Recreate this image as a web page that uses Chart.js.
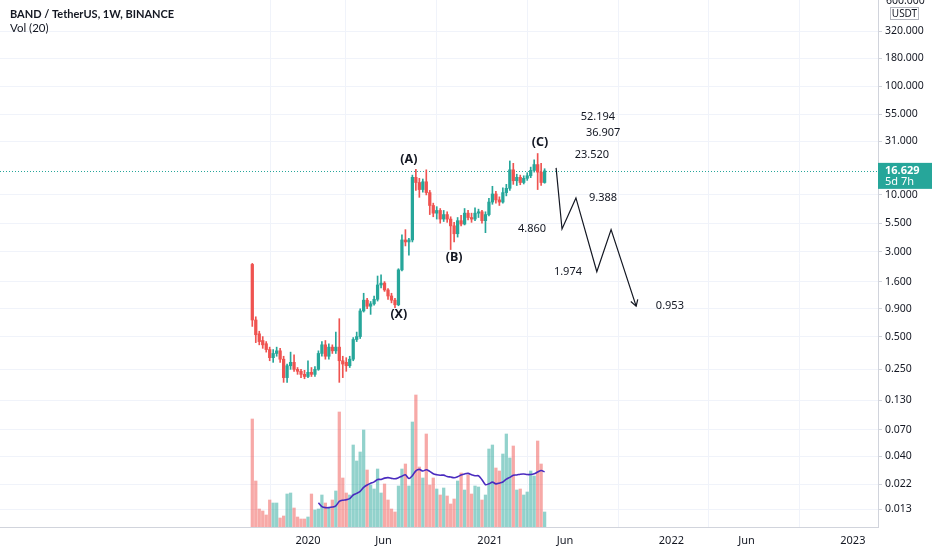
<!DOCTYPE html>
<html>
<head>
<meta charset="utf-8">
<script src="https://cdn.jsdelivr.net/npm/chart.js@4.4.1/dist/chart.umd.min.js"></script>
<style>
  html, body { margin: 0; padding: 0; background: #fff; }
  #wrap { width: 932px; height: 550px; position: relative; }
</style>
</head>
<body>
<div id="wrap"><canvas id="chart"></canvas></div>
<script>
// weekly candles, BAND/USDT
const opens  = [2.30,0.71,0.53,0.46,0.43,0.38,0.32,0.35,0.37,0.31,0.21,0.27,0.29,0.25,0.24,0.225,0.215,0.235,0.225,0.25,
                0.35,0.42,0.33,0.40,0.37,0.40,0.30,0.29,0.27,0.31,0.47,0.50,0.86,1.08,0.95,1.00,1.10,1.49,1.55,1.34,
                1.18,1.08,0.98,2.05,3.86,3.70,3.86,14.5,13.0,11.2,13.2,10.5,8.0,6.8,7.2,6.0,6.6,6.0,5.2,4.4,
                5.8,5.4,6.8,6.2,6.0,6.8,7.0,5.8,6.6,8.6,10.2,9.0,8.6,10.5,11.5,17.0,13.5,14.5,13.0,14.2,
                15.0,16.8,19.0,16.2,13.0];
const highs  = [2.35,0.76,0.56,0.50,0.45,0.40,0.38,0.40,0.39,0.33,0.28,0.36,0.34,0.26,0.25,0.245,0.30,0.26,0.265,0.37,
                0.45,0.46,0.43,0.42,0.55,0.73,0.33,0.32,0.33,0.49,0.55,0.90,1.25,1.12,1.05,1.18,1.80,1.85,1.60,1.38,
                1.25,1.12,2.10,4.30,4.80,4.00,15.2,17.2,14.2,14.0,17.0,11.0,8.4,7.8,7.5,7.2,7.0,6.3,5.6,6.2,
                6.5,7.5,7.2,6.8,7.6,7.4,7.2,7.0,9.3,12.0,10.8,9.6,11.6,12.5,20.5,19.5,15.5,15.2,15.0,16.0,
                18.0,21.0,24.0,19.5,17.4];
const lows   = [0.62,0.44,0.42,0.39,0.36,0.30,0.29,0.33,0.29,0.19,0.19,0.25,0.24,0.225,0.21,0.205,0.21,0.215,0.215,0.245,
                0.33,0.31,0.31,0.35,0.35,0.19,0.21,0.24,0.26,0.30,0.45,0.48,0.84,0.90,0.80,0.97,1.06,1.40,1.30,1.10,
                1.02,0.92,0.96,2.00,3.40,2.80,3.70,11.0,9.5,10.6,10.0,6.6,6.3,6.0,5.5,5.7,5.6,3.15,3.7,4.1,
                5.2,5.3,5.9,5.6,5.8,6.2,5.5,4.5,6.4,8.2,8.4,8.0,8.4,9.8,11.0,12.5,12.2,12.4,12.6,13.6,
                14.4,16.2,11.2,12.2,12.8];
const closes = [0.71,0.52,0.45,0.42,0.38,0.32,0.35,0.37,0.31,0.21,0.27,0.29,0.25,0.24,0.225,0.215,0.235,0.225,0.25,0.35,
                0.42,0.33,0.40,0.37,0.40,0.30,0.28,0.27,0.31,0.47,0.50,0.86,1.08,0.95,1.00,1.10,1.49,1.55,1.34,1.18,
                1.08,0.98,2.05,3.86,3.70,3.86,14.5,13.0,11.2,13.2,10.5,8.0,6.8,7.2,6.0,6.6,6.0,5.2,4.4,5.8,
                5.4,6.8,6.2,6.0,6.8,7.0,5.8,6.6,8.6,10.2,9.0,8.6,10.5,11.5,17.0,13.5,14.5,13.0,14.2,15.0,
                16.8,19.0,16.2,13.0,16.629];
const volumes = [108,46,18,16,12,27,24,24,9,11,33,34,19,10,8,8,10,33,17,18,
                 32,24,19,27,36,115,49,34,32,82,66,75,97,57,42,38,58,34,43,27,
                 18,15,41,58,63,41,105,132,60,49,93,42,49,38,32,39,31,23,28,46,
                 54,37,52,33,41,40,27,32,78,82,59,56,73,93,69,81,37,38,32,35,
                 56,51,86,63,15];
const firstWeek = -16;   // first candle, in weeks from 1 Jan 2020

const priceTicks = [0.013,0.022,0.04,0.07,0.13,0.25,0.5,0.9,1.6,3,5.5,10,31,55,100,180,320];
const topTick = 600;     // half hidden under the top edge
const timeTicks  = [0, 21.71, 52.29, 73.86, 104.43, 126, 156.57];
const timeLabels = ['2020','Jun','2021','Jun','2022','Jun','2023'];

// drawn projection
const projWeeks  = [71.3, 73.0, 77.0, 83.0, 87.1, 94.3];
const projPrices = [17.7, 4.86, 9.388, 1.974, 4.8, 0.953];
const levelLabels = ['52.194','36.907','23.520','9.388','4.860','1.974','0.953'];
const levelWeeks  = [83.3, 84.8, 81.6, 84.8, 64.4, 74.7, 104];
const waveLabels = ['(A)','(B)','(C)','(X)'];
const waveWeeks  = [29.0, 42.0, 66.7, 26.1];
const wavePrices = [21.4, 2.64, 30.6, 0.805];

const GREEN = '#26a69a', RED = '#ef5350';
const FONT = 'Noto Sans';
const up = closes.map((c, i) => c >= opens[i]);
const xs = opens.map((_, i) => firstWeek + i);
const candleColors = up.map(u => u ? GREEN : RED);
const volColors = up.map(u => u ? 'rgba(38,166,154,0.5)' : 'rgba(239,83,80,0.5)');
const volMA = volumes.map((v, i) => i < 19 ? null : volumes.slice(i - 19, i + 1).reduce((a, b) => a + b, 0) / 20);
const lastPrice = closes[closes.length - 1];

const noPad = s => { s.paddingTop = 0; s.paddingBottom = 0; s.paddingLeft = 0; s.paddingRight = 0; };

const overlay = {
  id: 'overlay',
  beforeDraw(chart) {
    const ctx = chart.ctx;
    ctx.save();
    ctx.fillStyle = '#fff';
    ctx.fillRect(0, 0, chart.width, chart.height);
    ctx.restore();
  },
  beforeDatasetsDraw(chart) {
    const { ctx, chartArea, scales } = chart;
    const y = Math.round(scales.y.getPixelForValue(lastPrice)) + 0.5;
    ctx.save();
    ctx.strokeStyle = GREEN;
    ctx.lineWidth = 1;
    ctx.setLineDash([1, 2]);
    ctx.beginPath();
    ctx.moveTo(chartArea.left, y);
    ctx.lineTo(chartArea.right, y);
    ctx.stroke();
    ctx.restore();
  },
  afterDatasetsDraw(chart) {
    const { ctx, scales } = chart;
    const sx = scales.x, sy = scales.y;
    ctx.save();
    // arrow head on the projection
    const n = projWeeks.length;
    const x1 = sx.getPixelForValue(projWeeks[n - 2]), y1 = sy.getPixelForValue(projPrices[n - 2]);
    const x2 = sx.getPixelForValue(projWeeks[n - 1]), y2 = sy.getPixelForValue(projPrices[n - 1]);
    const a = Math.atan2(y2 - y1, x2 - x1);
    ctx.strokeStyle = '#131722';
    ctx.lineWidth = 1.2;
    ctx.beginPath();
    ctx.moveTo(x2 - 7 * Math.cos(a - 0.55), y2 - 7 * Math.sin(a - 0.55));
    ctx.lineTo(x2, y2);
    ctx.lineTo(x2 - 7 * Math.cos(a + 0.55), y2 - 7 * Math.sin(a + 0.55));
    ctx.stroke();

    ctx.textAlign = 'center';
    ctx.textBaseline = 'middle';
    ctx.fillStyle = '#131722';
    ctx.font = '11px "' + FONT + '"';
    levelLabels.forEach((t, i) => {
      ctx.fillText(t, sx.getPixelForValue(levelWeeks[i]), sy.getPixelForValue(parseFloat(t)));
    });
    ctx.font = 'bold 12.5px "' + FONT + '"';
    waveLabels.forEach((t, i) => {
      ctx.fillText(t, sx.getPixelForValue(waveWeeks[i]), sy.getPixelForValue(wavePrices[i]));
    });
    ctx.restore();
  },
  afterDraw(chart) {
    const { ctx, chartArea, scales } = chart;
    ctx.save();
    // cut-off top label
    ctx.fillStyle = '#131722';
    ctx.textAlign = 'left';
    ctx.textBaseline = 'middle';
    ctx.font = '10.5px "' + FONT + '"';
    ctx.fillText(topTick.toFixed(3), chartArea.right + 8, scales.y.getPixelForValue(topTick));
    // last price tag
    const y = scales.y.getPixelForValue(lastPrice);
    ctx.fillStyle = GREEN;
    ctx.fillRect(chartArea.right, y - 8, chart.width - chartArea.right, 26);
    ctx.fillStyle = '#fff';
    ctx.font = 'bold 11px "' + FONT + '"';
    ctx.fillText(lastPrice.toFixed(3), chartArea.right + 7, y);
    ctx.font = '11px "' + FONT + '"';
    ctx.fillText('5d 7h', chartArea.right + 7, y + 11);
    // currency box
    ctx.fillStyle = '#fff';
    ctx.strokeStyle = '#b2b5be';
    ctx.lineWidth = 1;
    ctx.fillRect(chartArea.right + 12.5, 7.5, 28, 12);
    ctx.strokeRect(chartArea.right + 12.5, 7.5, 28, 12);
    ctx.fillStyle = '#131722';
    ctx.font = '10px "' + FONT + '"';
    ctx.textAlign = 'center';
    ctx.fillText('USDT', chartArea.right + 26.5, 14);
    // header
    ctx.textAlign = 'left';
    ctx.font = 'bold 11px Lato';
    ctx.fillText('BAND / TetherUS, 1W, BINANCE', 10, 14);
    ctx.font = '11.5px Lato';
    ctx.fillText('Vol (20)', 10, 28);
    ctx.restore();
  }
};

new Chart(document.getElementById('chart'), {
  type: 'bar',
  data: {
    datasets: [
      {
        type: 'bar', label: 'Vol', yAxisID: 'yVol', order: 5, grouped: false,
        data: xs.map((x, i) => ({ x, y: volumes[i] })),
        backgroundColor: volColors, barThickness: 2.6
      },
      {
        type: 'line', label: 'Vol MA', yAxisID: 'yVol', order: 4,
        data: xs.map((x, i) => ({ x, y: volMA[i] })),
        borderColor: '#4a2bbf', borderWidth: 1.6, pointRadius: 0, tension: 0.3
      },
      {
        type: 'bar', label: 'wick', yAxisID: 'y', order: 3, grouped: false,
        data: xs.map((x, i) => ({ x, y: [lows[i], highs[i]] })),
        backgroundColor: candleColors, barThickness: 1
      },
      {
        type: 'bar', label: 'body', yAxisID: 'y', order: 2, grouped: false,
        data: xs.map((x, i) => ({ x, y: [opens[i], closes[i]] })),
        backgroundColor: candleColors, barThickness: 2.6, minBarLength: 1
      },
      {
        type: 'line', label: 'projection', yAxisID: 'y', order: 1,
        data: projWeeks.map((x, i) => ({ x, y: projPrices[i] })),
        borderColor: '#131722', borderWidth: 1.2, pointRadius: 0, tension: 0
      }
    ]
  },
  options: {
    responsive: true,
    maintainAspectRatio: false,
    animation: false,
    layout: { padding: 0 },
    plugins: { legend: { display: false }, tooltip: { enabled: false } },
    scales: {
      x: {
        type: 'linear', min: -88.5, max: 163.8, offset: false,
        grid: { color: '#f0f3fa', drawTicks: false },
        border: { color: '#d1d4dc' },
        afterBuildTicks: s => { s.ticks = timeTicks.map(v => ({ value: v })); },
        afterFit: s => { s.height = 23; noPad(s); },
        ticks: {
          autoSkip: false, maxRotation: 0, padding: 7, color: '#131722',
          font: { family: FONT, size: 11 },
          callback: (v, i) => timeLabels[i]
        }
      },
      y: {
        type: 'logarithmic', position: 'right', min: 0.00892, max: 616.6,
        grid: { color: '#f0f3fa', tickLength: 4, tickColor: '#d1d4dc' },
        border: { color: '#d1d4dc' },
        afterBuildTicks: s => { s.ticks = priceTicks.map(v => ({ value: v })); },
        afterFit: s => { s.width = 54; noPad(s); },
        ticks: {
          autoSkip: false, padding: 3, color: '#131722',
          font: { family: FONT, size: 10.5 },
          callback: v => Number(v).toFixed(3)
        }
      },
      yVol: { type: 'linear', display: false, min: 0, max: 527 }
    }
  },
  plugins: [overlay]
});
</script>
</body>
</html>
